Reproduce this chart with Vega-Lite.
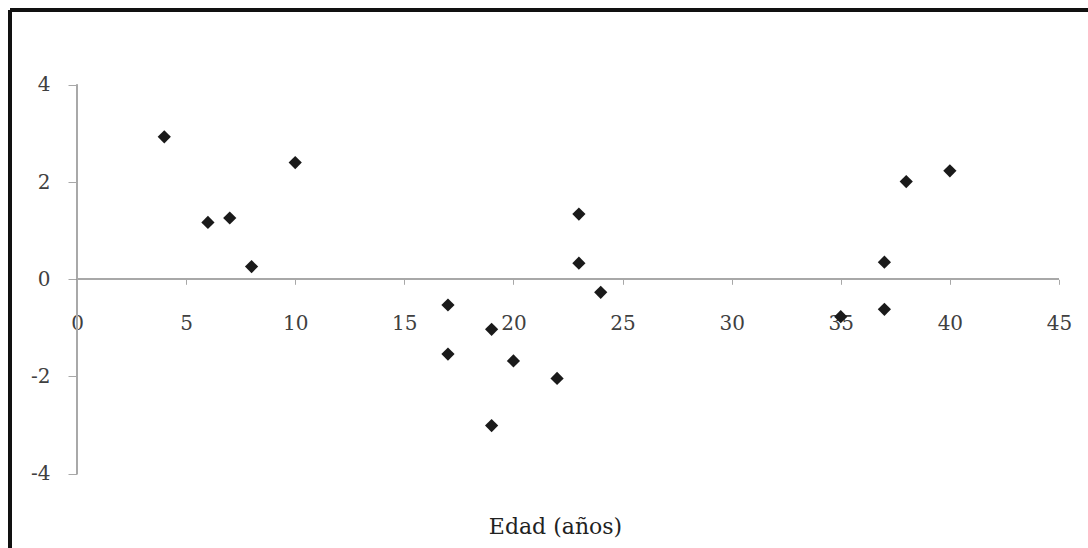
{
  "$schema": "https://vega.github.io/schema/vega-lite/v6.json",
  "width": 1078,
  "height": 538,
  "autosize": {"type": "none"},
  "padding": {"left": 10, "top": 10, "right": 0, "bottom": 0},
  "background": "white",
  "config": {"view": {"stroke": null}},
  "data": {"values": [
    {"edad": 4, "valor": 2.93},
    {"edad": 6, "valor": 1.17},
    {"edad": 7, "valor": 1.26},
    {"edad": 8, "valor": 0.26},
    {"edad": 10, "valor": 2.40},
    {"edad": 17, "valor": -0.53},
    {"edad": 17, "valor": -1.54},
    {"edad": 19, "valor": -1.03},
    {"edad": 19, "valor": -3.01},
    {"edad": 20, "valor": -1.68},
    {"edad": 22, "valor": -2.04},
    {"edad": 23, "valor": 1.34},
    {"edad": 23, "valor": 0.33},
    {"edad": 24, "valor": -0.27},
    {"edad": 35, "valor": -0.77},
    {"edad": 37, "valor": 0.35},
    {"edad": 37, "valor": -0.62},
    {"edad": 38, "valor": 2.01},
    {"edad": 40, "valor": 2.23}
  ]},
  "layer": [
    {
      "mark": {"type": "rule", "color": "#111111", "strokeWidth": 3},
      "encoding": {
        "x": {"datum": -3.07, "type": "quantitative", "scale": {"domain": [-3.07, 46.33], "nice": false, "zero": false}},
        "y": {"datum": -5.53, "type": "quantitative", "scale": {"domain": [-5.53, 5.54], "nice": false, "zero": false}},
        "y2": {"datum": 5.54}
      }
    },
    {
      "mark": {"type": "rule", "color": "#111111", "strokeWidth": 3},
      "encoding": {
        "x": {"datum": -3.07, "type": "quantitative", "scale": {"domain": [-3.07, 46.33], "nice": false, "zero": false}},
        "x2": {"datum": 46.33},
        "y": {"datum": 5.54, "type": "quantitative", "scale": {"domain": [-5.53, 5.54], "nice": false, "zero": false}}
      }
    },
    {
      "mark": {"type": "rule", "color": "#a8a8a8", "strokeWidth": 1},
      "encoding": {
        "x": {"datum": 0, "type": "quantitative", "scale": {"domain": [-3.07, 46.33], "nice": false, "zero": false}},
        "y": {"datum": -4, "type": "quantitative", "scale": {"domain": [-5.53, 5.54], "nice": false, "zero": false}},
        "y2": {"datum": 4}
      }
    },
    {
      "mark": {"type": "rule", "color": "#a8a8a8", "strokeWidth": 1},
      "encoding": {
        "x": {"datum": 0, "type": "quantitative", "scale": {"domain": [-3.07, 46.33], "nice": false, "zero": false}},
        "x2": {"datum": 45},
        "y": {"datum": 0, "type": "quantitative", "scale": {"domain": [-5.53, 5.54], "nice": false, "zero": false}}
      }
    },
    {
      "mark": {"type": "point", "shape": "diamond", "filled": true, "size": 175, "color": "#1a1a1a", "opacity": 1},
      "encoding": {
        "x": {
          "field": "edad", "type": "quantitative",
          "scale": {"domain": [-3.07, 46.33], "nice": false, "zero": false},
          "axis": {
            "orient": "bottom", "offset": -268.7, "values": [0, 5, 10, 15, 20, 25, 30, 35, 40, 45],
            "domain": false, "grid": false, "ticks": true, "tickSize": 5, "tickColor": "#a8a8a8",
            "labelFont": "DejaVu Serif", "labelFontSize": 20, "labelColor": "#404040",
            "labelBaseline": "middle", "labelPadding": 39, "labelFlush": false, "labelOverlap": false,
            "title": "Edad (años)", "titleFont": "DejaVu Serif", "titleFontSize": 22, "titleFontWeight": "normal",
            "titleColor": "#222222", "titleX": 545, "titleY": 254, "titleBaseline": "alphabetic", "titleAlign": "center"
          }
        },
        "y": {
          "field": "valor", "type": "quantitative",
          "scale": {"domain": [-5.53, 5.54], "nice": false, "zero": false},
          "axis": {
            "orient": "left", "offset": -67, "values": [-4, -2, 0, 2, 4],
            "domain": false, "grid": false, "ticks": true, "tickSize": 9, "tickColor": "#a8a8a8",
            "labelFont": "DejaVu Serif", "labelFontSize": 20, "labelColor": "#404040",
            "labelExpr": "datum.value < 0 ? '-' + abs(datum.value) : '' + datum.value",
            "labelPadding": 18, "labelFlush": false, "labelOverlap": false,
            "title": null
          }
        }
      }
    }
  ]
}
